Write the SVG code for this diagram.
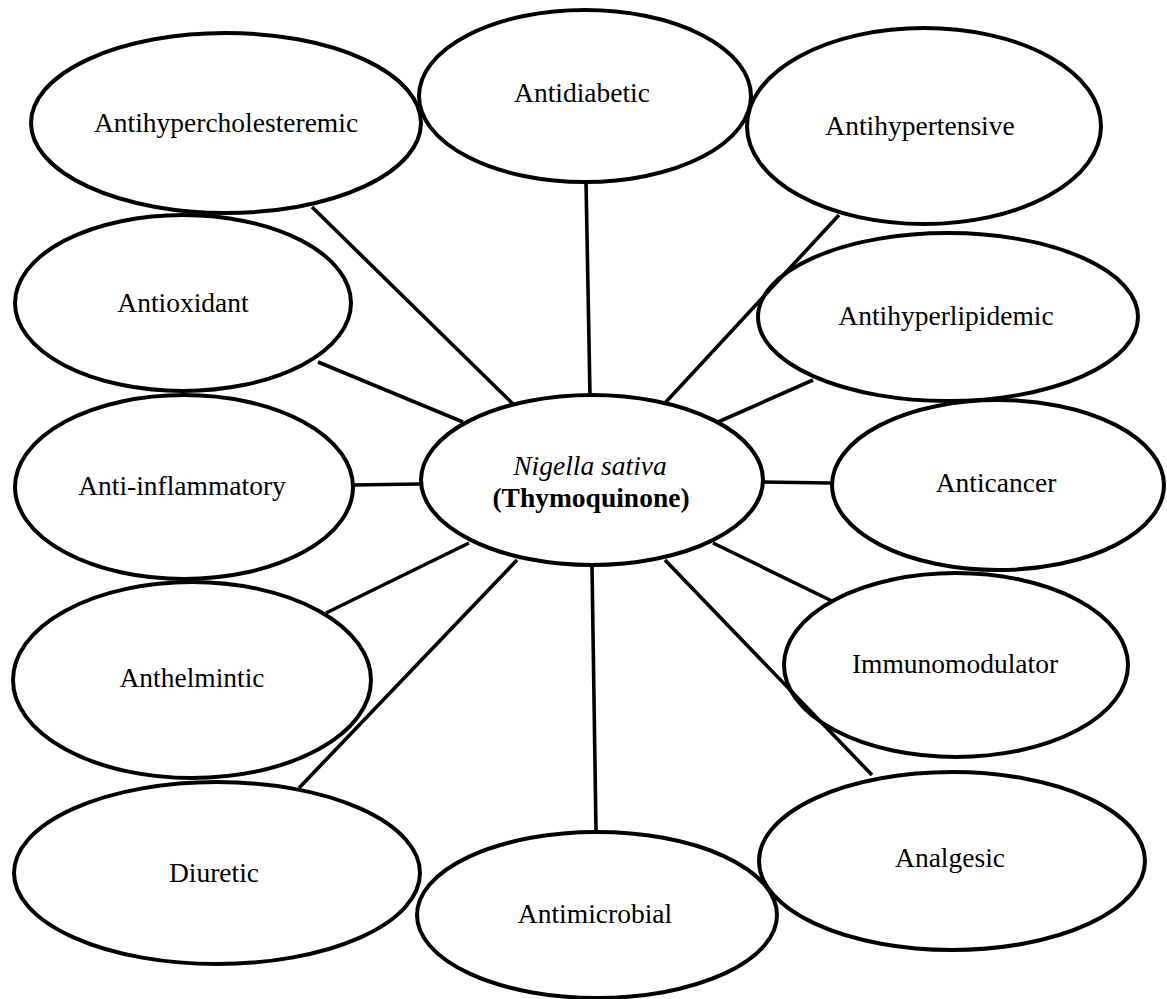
<svg xmlns="http://www.w3.org/2000/svg" width="1167" height="999" viewBox="0 0 1167 999">
<style>
.n{fill:none;stroke:#000;stroke-width:4}
.c line{stroke:#000;stroke-width:3.6}
text{font-family:"Liberation Serif","Times New Roman",serif;font-size:27.5px;fill:#000;text-anchor:middle}
.it{font-style:italic}
.b{font-weight:bold}
</style>
<rect width="1167" height="999" fill="#fff"/>
<g id="connectors" class="c">
<line x1="312" y1="207" x2="514" y2="405"/>
<line x1="586" y1="181" x2="590" y2="396"/>
<line x1="839" y1="215" x2="665" y2="403"/>
<line x1="318" y1="362" x2="463" y2="422"/>
<line x1="813" y1="380" x2="718" y2="422"/>
<line x1="352" y1="485" x2="421" y2="484"/>
<line x1="762" y1="482" x2="831" y2="483"/>
<line x1="326" y1="613" x2="469" y2="543"/>
<line x1="713" y1="543" x2="832" y2="601"/>
<line x1="299" y1="788" x2="517" y2="560"/>
<line x1="592" y1="566" x2="596" y2="831"/>
<line x1="665" y1="560" x2="872" y2="775"/>
</g>
<g id="center"><ellipse class="n" cx="592" cy="480" rx="171" ry="85"/><text x="590" y="475" class="it">Nigella sativa</text><text x="591" y="507" class="b">(Thymoquinone)</text></g>
<g id="antihypercholesteremic"><ellipse class="n" cx="226" cy="123" rx="195" ry="90"/><text x="226" y="132">Antihypercholesteremic</text></g>
<g id="antidiabetic"><ellipse class="n" cx="585" cy="96" rx="166" ry="86"/><text x="582" y="102">Antidiabetic</text></g>
<g id="antihypertensive"><ellipse class="n" cx="924" cy="126" rx="177" ry="98"/><text x="920" y="135">Antihypertensive</text></g>
<g id="antioxidant"><ellipse class="n" cx="183" cy="303" rx="168" ry="88"/><text x="183" y="312">Antioxidant</text></g>
<g id="antihyperlipidemic"><ellipse class="n" cx="948" cy="317" rx="190" ry="84"/><text x="946" y="325">Antihyperlipidemic</text></g>
<g id="antiinflammatory"><ellipse class="n" cx="184" cy="487" rx="169" ry="92"/><text x="182" y="495">Anti-inflammatory</text></g>
<g id="anticancer"><ellipse class="n" cx="998" cy="485" rx="166" ry="85"/><text x="996" y="492">Anticancer</text></g>
<g id="anthelmintic"><ellipse class="n" cx="192" cy="680" rx="179" ry="98"/><text x="192" y="687">Anthelmintic</text></g>
<g id="immunomodulator"><ellipse class="n" cx="956" cy="665" rx="172" ry="92"/><text x="955" y="673">Immunomodulator</text></g>
<g id="diuretic"><ellipse class="n" cx="217" cy="873" rx="203" ry="91"/><text x="214" y="882">Diuretic</text></g>
<g id="antimicrobial"><ellipse class="n" cx="597" cy="915" rx="180" ry="83"/><text x="595" y="923">Antimicrobial</text></g>
<g id="analgesic"><ellipse class="n" cx="952" cy="861" rx="193" ry="89"/><text x="950" y="867">Analgesic</text></g>
</svg>
